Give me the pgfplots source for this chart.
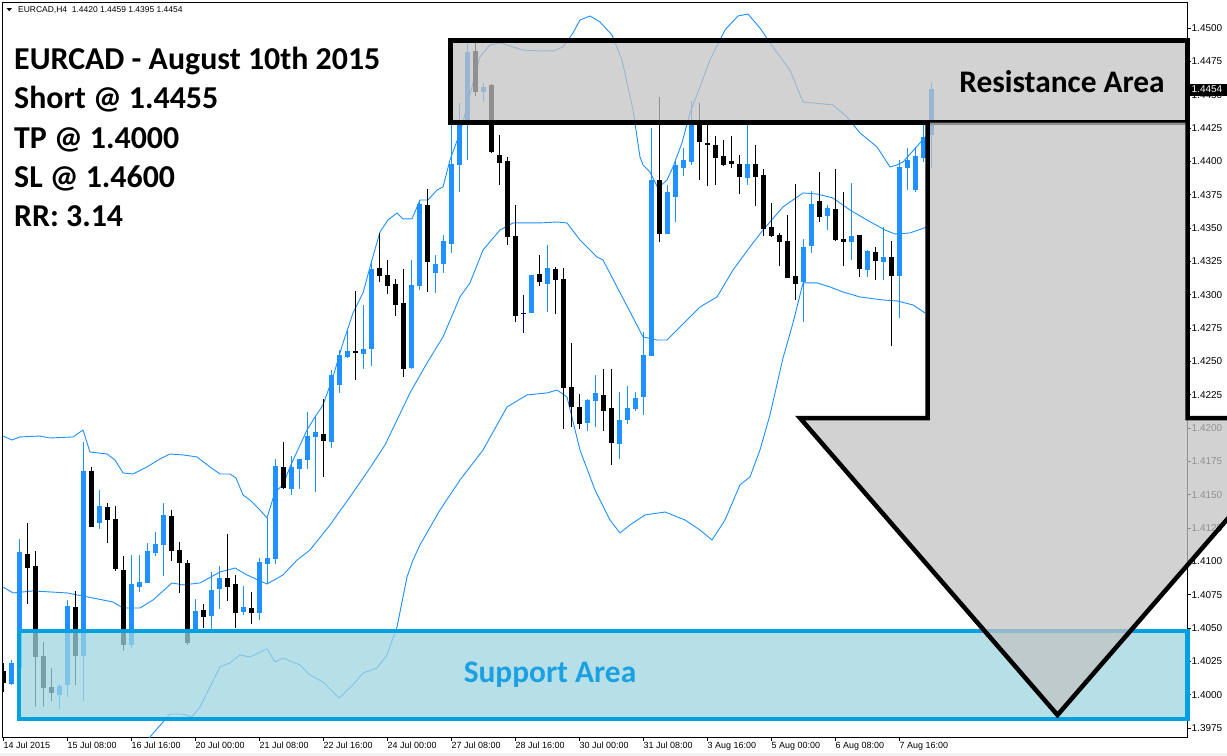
\documentclass[border=0pt]{standalone}
\usepackage{pgfplots}
\pgfplotsset{compat=1.18}
\usepackage{pgfplotstable}
\usepackage{fontspec}
\setmainfont{Liberation Sans}
\newfontfamily\carlito{Carlito}
\definecolor{cblue}{RGB}{30,144,255}
\definecolor{cnavy}{RGB}{0,0,128}
\definecolor{resfill}{RGB}{195,195,195}
\definecolor{supfill}{RGB}{160,213,224}
\definecolor{supline}{RGB}{0,160,227}
\definecolor{suptext}{RGB}{27,161,226}

\pgfplotstableread{
i O H L C
1 1.4008 1.4026 1.40073 1.40235
2 1.4020 1.41168 1.4017 1.4107
7 1.39998 1.4008 1.39895 1.40065
8 1.40073 1.4071 1.39985 1.40665
10 1.4029 1.41895 1.39955 1.41678
12 1.4129 1.41535 1.41245 1.41415
16 1.40373 1.41048 1.4035 1.4083
17 1.4081 1.41048 1.40772 1.40845
18 1.4084 1.41138 1.40837 1.41078
19 1.41065 1.4122 1.4104 1.4113
20 1.41123 1.41438 1.4089 1.41348
24 1.40478 1.40718 1.40463 1.40628
26 1.40592 1.4092 1.40493 1.40785
27 1.40793 1.40965 1.40645 1.40875
30 1.40622 1.40815 1.406 1.40658
32 1.40615 1.41025 1.40562 1.40995
33 1.4098 1.41327 1.4083 1.41025
34 1.4102 1.41768 1.40982 1.41715
36 1.41545 1.4179 1.415 1.41708
37 1.41695 1.41768 1.41545 1.41768
38 1.41762 1.4212 1.41695 1.4194
39 1.41935 1.4209 1.41522 1.4197
41 1.41897 1.42435 1.41848 1.42398
42 1.42323 1.42585 1.42265 1.42548
43 1.42533 1.42735 1.42525 1.4258
45 1.42555 1.42923 1.42445 1.42593
46 1.42595 1.4326 1.42467 1.43193
51 1.42452 1.4326 1.42445 1.43073
52 1.43067 1.4371 1.43037 1.4368
54 1.43163 1.43298 1.43015 1.4323
55 1.4323 1.43448 1.43163 1.43403
56 1.43382 1.44385 1.43315 1.4398
57 1.43975 1.44438 1.43772 1.4428
58 1.44273 1.44888 1.4401 1.4482
60 1.44522 1.4459 1.44447 1.4456
66 1.4286 1.43148 1.4286 1.43148
68 1.4308 1.43373 1.4287 1.43202
73 1.4204 1.4222 1.41978 1.42212
74 1.42205 1.42398 1.4201 1.42259
77 1.41882 1.4227 1.4177 1.4206
78 1.42062 1.42315 1.42032 1.4215
79 1.42145 1.4227 1.4213 1.42225
80 1.42235 1.42722 1.421 1.42548
81 1.42542 1.4425 1.42542 1.4386
83 1.43457 1.43823 1.43457 1.4377
84 1.43735 1.4401 1.43547 1.43973
85 1.43952 1.44098 1.43892 1.4401
86 1.43997 1.44455 1.43975 1.44273
93 1.43877 1.44273 1.43825 1.4398
100 1.43097 1.43418 1.42797 1.4336
101 1.43367 1.43778 1.43315 1.4368
103 1.43592 1.43673 1.43487 1.4365
106 1.43397 1.43838 1.43262 1.43442
108 1.43187 1.43337 1.43135 1.4333
110 1.43247 1.4351 1.43112 1.43283
112 1.43142 1.4401 1.42827 1.4396
113 1.43952 1.441 1.43787 1.44012
114 1.43787 1.44108 1.43772 1.44042
115 1.44027 1.44273 1.43997 1.44185
116 1.4420 1.4459 1.4395 1.4454
}\bull

\pgfplotstableread{
i O H L C
0 1.4018 1.40235 1.40022 1.4009
3 1.41055 1.41288 1.4068 1.40952
4 1.40965 1.41078 1.3991 1.40285
5 1.4029 1.40395 1.3991 1.40052
6 1.40058 1.4020 1.39955 1.40015
9 1.40658 1.40778 1.40073 1.4029
11 1.41678 1.41708 1.41258 1.4126
13 1.41408 1.41438 1.4114 1.41312
14 1.41318 1.41415 1.4093 1.40945
15 1.40935 1.4104 1.4033 1.40373
21 1.4134 1.41385 1.41005 1.4108
22 1.41085 1.41145 1.40765 1.4099
23 1.40988 1.4101 1.40373 1.40388
25 1.40635 1.4068 1.40502 1.40585
28 1.40875 1.41205 1.40705 1.4081
29 1.4083 1.40898 1.40502 1.40615
31 1.4065 1.4077 1.40532 1.40615
35 1.41708 1.41895 1.41545 1.41552
40 1.41955 1.42218 1.41635 1.41905
44 1.4258 1.43028 1.42362 1.4256
47 1.432 1.43463 1.43097 1.43142
48 1.43148 1.4326 1.43007 1.43067
49 1.4308 1.43118 1.42842 1.42925
50 1.42938 1.43193 1.42385 1.42445
53 1.43673 1.43793 1.43022 1.43247
59 1.44828 1.44888 1.44492 1.44518
61 1.44573 1.4458 1.44065 1.44072
62 1.44048 1.44198 1.43823 1.43985
63 1.44003 1.44035 1.43373 1.43435
64 1.4344 1.43673 1.42795 1.4284
67 1.4316 1.43298 1.43065 1.43097
69 1.43195 1.43208 1.42855 1.4311
70 1.4312 1.43202 1.41993 1.42302
71 1.42308 1.42638 1.4201 1.4216
72 1.42158 1.42257 1.41993 1.42032
75 1.42248 1.42443 1.4198 1.4213
76 1.4215 1.42443 1.41725 1.4189
82 1.4386 1.44483 1.43397 1.43457
87 1.44285 1.44438 1.43862 1.44147
88 1.44138 1.44273 1.43817 1.44123
89 1.44123 1.4419 1.43825 1.44027
90 1.4404 1.4416 1.43967 1.43973
91 1.44003 1.4419 1.43952 1.43982
92 1.4398 1.44048 1.43757 1.43885
94 1.4398 1.44123 1.43667 1.43885
95 1.43898 1.43943 1.43442 1.43495
96 1.43508 1.4369 1.43435 1.43442
97 1.43448 1.43463 1.43217 1.43397
98 1.43403 1.43598 1.43127 1.43127
99 1.4314 1.4383 1.42962 1.43082
102 1.43703 1.4392 1.43547 1.43585
104 1.43645 1.43943 1.43405 1.4341
105 1.43418 1.4377 1.43217 1.43397
107 1.4345 1.4345 1.43135 1.43195
109 1.4332 1.4336 1.43112 1.43255
111 1.43283 1.43405 1.42617 1.43142
}\bear

\pgfplotstableread{
i O H L C
65 1.4286 1.42998 1.42715 1.4286
}\doji

\pgfplotstableread{
i p
-0.06 1.4194
1.06 1.4191
2.06 1.41933
4.56 1.4194
5.81 1.41925
8.69 1.41933
9.94 1.41985
10.81 1.4182
12.94 1.41805
13.94 1.4176
14.94 1.41663
16.19 1.41655
17.94 1.41708
19.56 1.41768
20.81 1.41805
22.44 1.41798
24.19 1.41783
25.81 1.41708
27.06 1.41655
28.31 1.41655
29.06 1.41625
29.94 1.41498
30.81 1.4146
32.06 1.41385
32.94 1.41325
33.94 1.4152
34.94 1.41573
35.81 1.41708
37.94 1.41985
38.94 1.42083
39.94 1.42173
41.19 1.42383
42.44 1.42638
43.69 1.42863
44.94 1.43013
46.06 1.4326
47.06 1.4347
48.06 1.4356
49.19 1.43613
49.94 1.43568
51.06 1.43568
52.06 1.4371
53.06 1.4371
54.19 1.43785
54.94 1.43808
55.81 1.4401
57.06 1.44213
57.94 1.44408
58.69 1.44588
59.56 1.44783
60.81 1.44873
62.06 1.44888
63.69 1.44858
64.94 1.44835
67.06 1.44828
68.69 1.44828
69.94 1.44858
71.19 1.44963
72.06 1.4506
73.31 1.4509
74.56 1.45045
76.06 1.44948
77.31 1.4476
78.69 1.44385
79.56 1.44033
79.94 1.43973
80.81 1.4392
81.81 1.4380
82.94 1.4386
83.69 1.43958
84.81 1.44138
85.81 1.44363
87.06 1.44558
88.31 1.4476
90.19 1.44985
91.81 1.4509
93.06 1.45105
94.56 1.45
96.44 1.44835
98.31 1.44685
99.94 1.44445
103.69 1.44423
105.44 1.44333
107.06 1.44213
109.19 1.44108
110.81 1.43958
111.69 1.43973
112.44 1.43995
114.56 1.44138
115.81 1.4422
}\upperband

\pgfplotstableread{
i p
-0.06 1.40808
1.19 1.40763
3.69 1.40778
7.94 1.40763
11.19 1.40725
13.69 1.40695
14.94 1.4065
17.06 1.4065
18.69 1.4071
21.06 1.40838
22.44 1.40823
24.56 1.40838
27.06 1.4092
28.94 1.4095
30.44 1.40898
32.94 1.4083
34.94 1.40898
36.69 1.4101
38.31 1.41085
40.81 1.41273
43.31 1.41483
45.81 1.4170
47.69 1.41873
49.19 1.4206
50.81 1.42263
52.94 1.42488
54.94 1.42683
57.06 1.42983
58.31 1.43088
59.94 1.43335
62.06 1.43485
63.69 1.43538
67.06 1.43538
69.19 1.43545
70.44 1.43538
72.06 1.4341
74.19 1.43283
74.94 1.4326
76.69 1.43058
78.31 1.42873
79.94 1.42683
81.69 1.4266
82.94 1.4266
84.56 1.42758
87.06 1.42908
89.19 1.42983
91.19 1.43185
93.31 1.43358
94.94 1.43485
97.44 1.43658
99.94 1.43763
101.69 1.43755
103.69 1.43725
105.81 1.43635
107.94 1.4356
110.19 1.43485
111.44 1.43455
113.31 1.43463
115.44 1.43508
}\midband

\pgfplotstableread{
i p
-0.06 1.3957
5.81 1.39473
12.06 1.3945
15.81 1.3951
18.31 1.39683
20.81 1.39855
22.31 1.39855
23.56 1.39833
24.56 1.39908
25.81 1.40058
27.06 1.40208
28.31 1.40238
29.56 1.40298
30.81 1.40283
32.94 1.40343
33.94 1.40245
34.94 1.40275
37.06 1.40223
38.31 1.40148
39.94 1.40095
41.19 1.4002
41.94 1.39975
43.69 1.40073
44.94 1.40163
46.69 1.402
47.94 1.40298
49.19 1.40508
50.44 1.40883
51.19 1.4101
52.06 1.41123
54.56 1.41385
57.06 1.4161
59.94 1.41835
62.94 1.42158
65.44 1.42248
67.94 1.42263
69.19 1.42285
70.44 1.42233
72.06 1.41835
73.94 1.41535
75.81 1.4131
77.06 1.41213
78.31 1.41273
80.19 1.41348
82.69 1.4137
85.19 1.4131
87.06 1.41235
88.56 1.4116
90.19 1.4131
92.06 1.41573
93.31 1.41633
94.56 1.41835
95.81 1.42098
97.44 1.42525
98.69 1.42788
99.94 1.43088
101.69 1.43088
103.31 1.43058
104.94 1.4302
107.06 1.42983
109.94 1.4296
111.69 1.42953
113.69 1.42923
115.19 1.42863
}\lowband

\newcommand{\candles}[2]{%
\addplot[draw=none, mark=none, forget plot,
  error bars/.cd, y dir=both, y explicit, error mark=none,
  error bar style={draw=#2, line width=1bp}]
  table[x=i, y expr={(\thisrow{H}+\thisrow{L})/2}, y error expr={(\thisrow{H}-\thisrow{L})/2}] {#1};
\addplot[draw=none, mark=none, forget plot,
  error bars/.cd, y dir=both, y explicit, error mark=none,
  error bar style={draw=#2, line width=5bp}]
  table[x=i, y expr={(\thisrow{O}+\thisrow{C})/2}, y error expr={max(abs(\thisrow{O}-\thisrow{C})/2,0.00004)}] {#1};
}

\begin{document}
\begin{tikzpicture}
\useasboundingbox (0bp,0bp) rectangle (1227bp,-756bp);
\fill[white] (0bp,0bp) rectangle (1227bp,-756bp);
\clip (0bp,0bp) rectangle (1227bp,-756bp);
\begin{axis}[
  at={(2bp,-737bp)}, anchor=south west,
  scale only axis, width=1185bp, height=735bp,
  xmin=-0.1875, xmax=147.94, ymin=1.396825, ymax=1.45195,
  axis line style={line width=0.8bp},
  tick align=outside, major tick length=4bp,
  tick style={line width=0.6bp, black},
  xtick pos=bottom, ytick pos=right, yticklabel pos=right,
  xtick={0,8,16,24,32,40,48,56,64,72,80,88,96,104,112},
  xticklabels={14 Jul 2015, 15 Jul 08:00, 16 Jul 16:00, 20 Jul 00:00, 21 Jul 08:00, 22 Jul 16:00, 24 Jul 00:00, 27 Jul 08:00, 28 Jul 16:00, 30 Jul 00:00, 31 Jul 08:00, 3 Aug 16:00, 5 Aug 00:00, 6 Aug 08:00, 7 Aug 16:00},
  ytick={1.3975,1.4,1.4025,1.405,1.4075,1.41,1.4125,1.415,1.4175,1.42,1.4225,1.425,1.4275,1.43,1.4325,1.435,1.4375,1.44,1.4425,1.445,1.4475,1.45},
  /pgf/number format/fixed, /pgf/number format/fixed zerofill,
  /pgf/number format/precision=4, /pgf/number format/assume math mode=true,
  scaled y ticks=false,
  xticklabel style={font=\fontsize{9}{10}\selectfont, anchor=north west, inner sep=1bp, xshift=-1bp},
  yticklabel style={font=\fontsize{10}{11}\selectfont, anchor=west, inner sep=0.5bp},
]
\addplot[cblue, line width=0.9bp, mark=none] table[x=i,y=p] {\upperband};
\addplot[cblue, line width=0.9bp, mark=none] table[x=i,y=p] {\midband};
\addplot[cblue, line width=0.9bp, mark=none] table[x=i,y=p] {\lowband};
\candles{\bull}{cblue}
\candles{\bear}{black}
\candles{\doji}{cnavy}
\end{axis}
\begin{scope}[x=1bp, y=-1bp]
\fill[gray!10] (0,752.5) rectangle (1227,756);
% header
\fill[black] (6.5,8) -- (12,8) -- (9.25,11.2) -- cycle;
\node[anchor=base west, inner sep=0, font=\fontsize{8.5}{10}\selectfont] at (18,12.5) {EURCAD,H4\ \ 1.4420 1.4459 1.4395 1.4454};
% support area
\fill[supfill, fill opacity=0.75] (19,631) rectangle (1187.5,719);
\draw[supline, line width=4.6bp] (19,631) rectangle (1187.5,719);
% resistance area
\fill[resfill, fill opacity=0.74] (450.3,40.3) rectangle (1187.5,122.5);
\draw[black, line width=4.7bp] (450.3,40.3) rectangle (1187.5,122.5);
% arrow
\fill[resfill, fill opacity=0.74] (927.5,122.5) -- (927.5,418) -- (800,418) -- (1057.5,715) -- (1315,418) -- (1187.5,418) -- (1187.5,122.5) -- cycle;
\draw[black, line width=4.5bp] (927.5,120.5) -- (927.5,418) -- (800,418) -- (1057.5,715) -- (1315,418) -- (1187.5,418) -- (1187.5,120.5);
% texts
\node[anchor=base, inner sep=0, font={\carlito\bfseries\fontsize{31.5}{35}\selectfont}] at (1062,92) {Resistance Area};
\node[anchor=base, inner sep=0, text=suptext, font={\carlito\bfseries\fontsize{31.5}{35}\selectfont}] at (550,682) {Support Area};
\node[anchor=base west, inner sep=0, font={\carlito\bfseries\fontsize{32}{35}\selectfont}] at (14,69) {EURCAD - August 10th 2015};
\node[anchor=base west, inner sep=0, font={\carlito\bfseries\fontsize{32}{35}\selectfont}] at (14,108) {Short @ 1.4455};
\node[anchor=base west, inner sep=0, font={\carlito\bfseries\fontsize{32}{35}\selectfont}] at (14,148) {TP @ 1.4000};
\node[anchor=base west, inner sep=0, font={\carlito\bfseries\fontsize{32}{35}\selectfont}] at (14,187) {SL @ 1.4600};
\node[anchor=base west, inner sep=0, font={\carlito\bfseries\fontsize{32}{35}\selectfont}] at (14,226) {RR: 3.14};
% price marker
\fill[black] (1188,83.5) rectangle (1227,95.5);
\node[anchor=west, inner sep=0, text=white, font=\fontsize{10}{11}\selectfont] at (1191.5,89.5) {1.4454};
\end{scope}
\end{tikzpicture}
\end{document}
